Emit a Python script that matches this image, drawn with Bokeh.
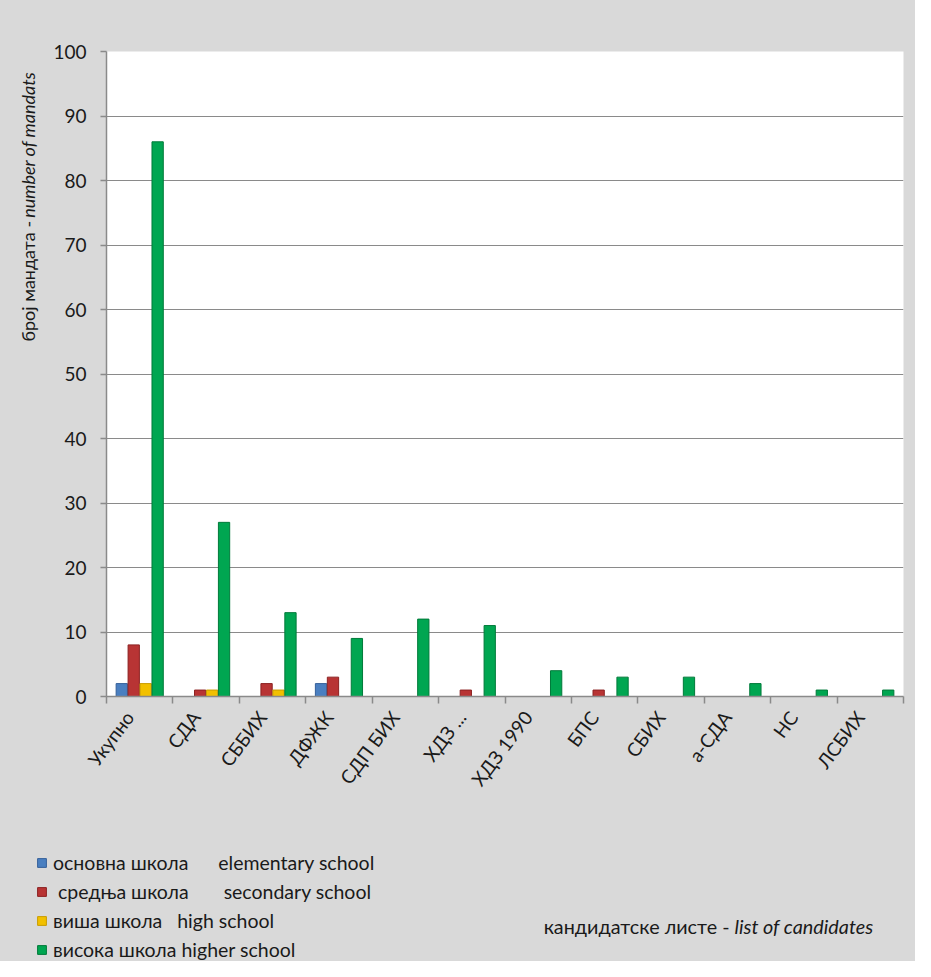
import math
from bokeh.plotting import figure
from bokeh.layouts import row, column
from bokeh.models import Range1d, FixedTicker, ColumnDataSource, Legend, LegendItem, Label
from bokeh.embed import file_html
from bokeh.resources import INLINE

# ---------------- data ----------------
categories = ["Укупно", "СДА", "СББИХ", "ДФЖК", "СДП БИХ", "ХДЗ ...", "ХДЗ 1990",
              "БПС", "СБИХ", "а-СДА", "НС", "ЛСБИХ"]
elementary = [2, 0, 0, 2, 0, 0, 0, 0, 0, 0, 0, 0]
secondary = [8, 1, 2, 3, 0, 1, 0, 1, 0, 0, 0, 0]
high = [2, 1, 1, 0, 0, 0, 0, 0, 0, 0, 0, 0]
higher = [86, 27, 13, 9, 12, 11, 4, 3, 3, 2, 1, 1]
y_ticks = list(range(0, 101, 10))

NB = "\u00a0"
series_labels = [
    "основна" + NB + "школа" + NB * 6 + "elementary" + NB + "school",
    NB + "средња" + NB + "школа" + NB * 7 + "secondary" + NB + "school",
    "виша" + NB + "школа" + NB * 3 + "high" + NB + "school",
    "висока школа higher school",
]
y_title_a = "број мандата -"
y_title_b = "number of mandats"
x_title_a = "кандидатске листе -"
x_title_b = "list of candidates"

# ---------------- styles ----------------
FONT = "Lato"
TXT = "#1a1a1a"
GRAY = "#8a8a8a"
BG = "#d9d9d9"
colors = ["#4a7fc0", "#b83434", "#f2c000", "#00a651"]
edges = ["#35609a", "#8c2222", "#c99c00", "#007a3a"]
offsets = [-0.27, -0.09, 0.09, 0.27]
bar_w = 0.17
label_shift = -0.07   # small left shift of the rotated category labels
n = len(categories)
series = [elementary, secondary, high, higher]

H1 = 830          # height of upper row (chart)
W_LEFT = 50       # strip holding the y title
W_TOT = 915
H_TOT = 961


def plain(fig):
    fig.border_fill_color = BG
    fig.background_fill_color = BG
    fig.outline_line_color = None
    fig.grid.visible = False


# ---------------- main chart ----------------
p = figure(width=W_TOT - W_LEFT, height=H1, output_backend="svg", toolbar_location=None,
           x_range=Range1d(0, n), y_range=Range1d(0, 100),
           min_border_left=55, min_border_right=12, min_border_top=51, min_border_bottom=134)
p.border_fill_color = BG
p.background_fill_color = "white"
p.outline_line_color = None

renderers = []
for vals, col, edge, off in zip(series, colors, edges, offsets):
    xs = [i + 0.5 + off for i, v in enumerate(vals) if v > 0]
    tops = [v for v in vals if v > 0]
    src = ColumnDataSource(dict(x=xs, top=tops))
    r = p.vbar(x="x", top="top", bottom=0, width=bar_w, source=src,
               fill_color=col, line_color=edge, line_width=1)
    renderers.append(r)

# y axis
p.yaxis.ticker = FixedTicker(ticks=y_ticks)
p.yaxis.axis_line_color = GRAY
p.yaxis.axis_line_width = 1.5
p.yaxis.major_tick_line_color = GRAY
p.yaxis.major_tick_line_width = 1.5
p.yaxis.major_tick_out = 6
p.yaxis.major_tick_in = 0
p.yaxis.minor_tick_line_color = None
p.yaxis.major_label_standoff = 14
p.yaxis.major_label_text_font = FONT
p.yaxis.major_label_text_font_size = "19px"
p.yaxis.major_label_text_color = TXT

# x axis: labels near category centres, ticks at category boundaries
label_pos = [i + 0.5 + label_shift for i in range(n)]
p.xaxis.ticker = FixedTicker(ticks=label_pos, minor_ticks=list(range(n + 1)))
p.xaxis.major_label_overrides = {x: c + NB + NB for x, c in zip(label_pos, categories)}
p.xaxis.major_tick_line_color = None
p.xaxis.major_tick_out = 0
p.xaxis.major_tick_in = 0
p.xaxis.minor_tick_line_color = GRAY
p.xaxis.minor_tick_line_width = 1.5
p.xaxis.minor_tick_out = 7
p.xaxis.minor_tick_in = 0
p.xaxis.axis_line_color = GRAY
p.xaxis.axis_line_width = 1.5
p.xaxis.major_label_orientation = 0.93
p.xaxis.major_label_standoff = 2
p.xaxis.major_label_text_font = FONT
p.xaxis.major_label_text_font_size = "19px"
p.xaxis.major_label_text_color = TXT

p.xgrid.grid_line_color = None
p.ygrid.ticker = FixedTicker(ticks=y_ticks)
p.ygrid.grid_line_color = GRAY
p.ygrid.grid_line_width = 1.2

# ---------------- y title strip ----------------
yl = figure(width=W_LEFT, height=H1, output_backend="svg", toolbar_location=None,
            x_range=Range1d(0, W_LEFT), y_range=Range1d(H1, 0), min_border=0,
            x_axis_location=None, y_axis_location=None)
plain(yl)
yl.add_layout(Label(x=27, y=218, text=y_title_a, angle=math.pi / 2,
                    text_align="right", text_baseline="middle",
                    text_font=FONT, text_font_size="18px", text_color=TXT))
yl.add_layout(Label(x=27, y=214, text=y_title_b, angle=math.pi / 2,
                    text_align="left", text_baseline="middle", text_font_style="italic",
                    text_font=FONT, text_font_size="18px", text_color=TXT))

# ---------------- bottom strip: legend + x title ----------------
bt = figure(width=W_TOT, height=H_TOT - H1, output_backend="svg", toolbar_location=None,
            x_range=Range1d(0, W_TOT), y_range=Range1d(H_TOT, H1), min_border=0,
            x_axis_location=None, y_axis_location=None)
plain(bt)
bt.add_layout(Label(x=729, y=925, text=x_title_a,
                    text_align="right", text_baseline="middle",
                    text_font=FONT, text_font_size="19.8px", text_color=TXT))
bt.add_layout(Label(x=734, y=925, text=x_title_b, text_font_style="italic",
                    text_align="left", text_baseline="middle",
                    text_font=FONT, text_font_size="19.8px", text_color=TXT))

# legend swatches: renderers holding no visible point, only used for the legend glyphs
swatches = []
for col, edge in zip(colors, edges):
    swatches.append(bt.vbar(x=[float("nan")], top=[float("nan")], width=1,
                            fill_color=col, line_color=edge))

legend = Legend(items=[LegendItem(label=lab, renderers=[r]) for lab, r in zip(series_labels, swatches)],
                location=(36, 0), orientation="vertical",
                border_line_color=None, background_fill_alpha=0, padding=0, spacing=6,
                glyph_width=11, glyph_height=11, label_standoff=6,
                label_text_font=FONT, label_text_font_size="19.5px", label_text_color=TXT)
bt.add_layout(legend, "center")

layout = column(row(yl, p, styles={"background-color": BG}), bt,
                styles={"background-color": BG})

open("out.html", "w").write(file_html(layout, INLINE))
